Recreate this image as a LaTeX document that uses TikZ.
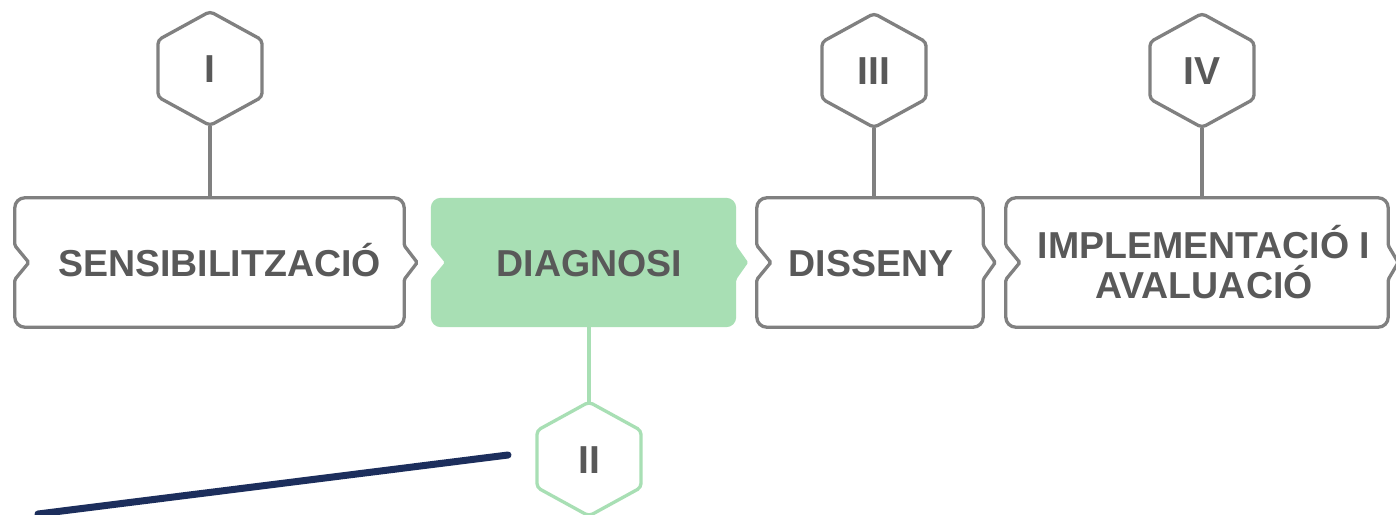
\documentclass[tikz,border=0pt]{standalone}
\usepackage{fontspec}
\setmainfont{Liberation Sans}
\usetikzlibrary{calc,backgrounds}
\definecolor{linegray}{RGB}{128,128,128}
\definecolor{txtgray}{RGB}{89,89,89}
\definecolor{mint}{RGB}{168,223,180}
\definecolor{navyline}{RGB}{28,46,92}
% #1 node name, #2 path style, #3 tip length
\newcommand\stageoutline[3]{%
  \path[#2] ($(#1.west)+(0,-17)$) [rounded corners=10pt] -- (#1.north west) -- (#1.north east)
    [rounded corners=1.5pt] -- ($(#1.east)+(0,-17)$) -- ($(#1.east)+(#3,0)$) -- ($(#1.east)+(0,17)$)
    [rounded corners=10pt] -- (#1.south east) -- (#1.south west)
    [rounded corners=1.5pt] -- ($(#1.west)+(0,17)$) -- ($(#1.west)+(14,0)$) -- cycle;}
\newcommand\hexoutline[2]{%
  \path[#2, rounded corners=4pt] ($(#1.center)+(0,-57)$) -- ($(#1.center)+(52,-28.5)$)
    -- ($(#1.center)+(52,28.5)$) -- ($(#1.center)+(0,57)$) -- ($(#1.center)+(-52,28.5)$)
    -- ($(#1.center)+(-52,-28.5)$) -- cycle;}
\begin{document}
\begin{tikzpicture}[x=1pt,y=-1pt,
  stagetext/.style={font=\fontsize{37.5}{40}\selectfont\bfseries, text=txtgray, align=center,
    inner sep=0pt, minimum height=129pt},
  oneline/.style={text height=27pt, text depth=0pt},
  hexnode/.style={circle, inner sep=0pt, minimum size=114pt,
    font=\fontsize{39}{40}\selectfont\bfseries, text=txtgray, text height=28pt, text depth=0pt},
  grayedge/.style={draw=linegray, line width=3.3pt},
  mintedge/.style={draw=mint, line width=3.3pt}]
\useasboundingbox (0,0) rectangle (1396,514);

\node[stagetext, oneline, minimum width=389pt] (b1) at (209.5,262.5) {\hspace*{20pt}SENSIBILITZACIÓ};
\node[stagetext, oneline, minimum width=305pt] (b2) at (583.5,262.5) {\hspace*{12pt}DIAGNOSI};
\node[stagetext, oneline, minimum width=226pt] (b3) at (870,262.5) {\hspace*{2pt}DISSENY};
\node[stagetext, minimum width=382pt] (b4) at (1197,262.5) {\hspace*{14pt}IMPLEMENTACIÓ I\\\hspace*{14pt}AVALUACIÓ};

\node[hexnode] (h1) at (210,68.5) {I};
\node[hexnode] (h2) at (589,459) {II};
\node[hexnode] (h3) at (874,70.5) {III};
\node[hexnode] (h4) at (1202,70.5) {IV};

\begin{pgfonlayer}{background}
  \fill[white] (0,0) rectangle (1396,514);
  \stageoutline{b1}{grayedge}{13}
  \stageoutline{b2}{fill=mint}{12}
  \stageoutline{b3}{grayedge}{12}
  \stageoutline{b4}{grayedge}{10}
\end{pgfonlayer}

\hexoutline{h1}{grayedge}
\hexoutline{h3}{grayedge}
\hexoutline{h4}{grayedge}
\hexoutline{h2}{mintedge}

\draw[grayedge] (h1.south) -- (h1.south |- b1.north);
\draw[grayedge] (h3.south) -- (h3.south |- b3.north);
\draw[grayedge] (h4.south) -- (h4.south |- b4.north);
\draw[mintedge] (h2.north |- b2.south) -- (h2.north);

\coordinate (n1) at (508,455);
\coordinate (n2) at (38,514);
\draw[navyline, line width=7pt, line cap=round] (n1) -- (n2);
\end{tikzpicture}
\end{document}
